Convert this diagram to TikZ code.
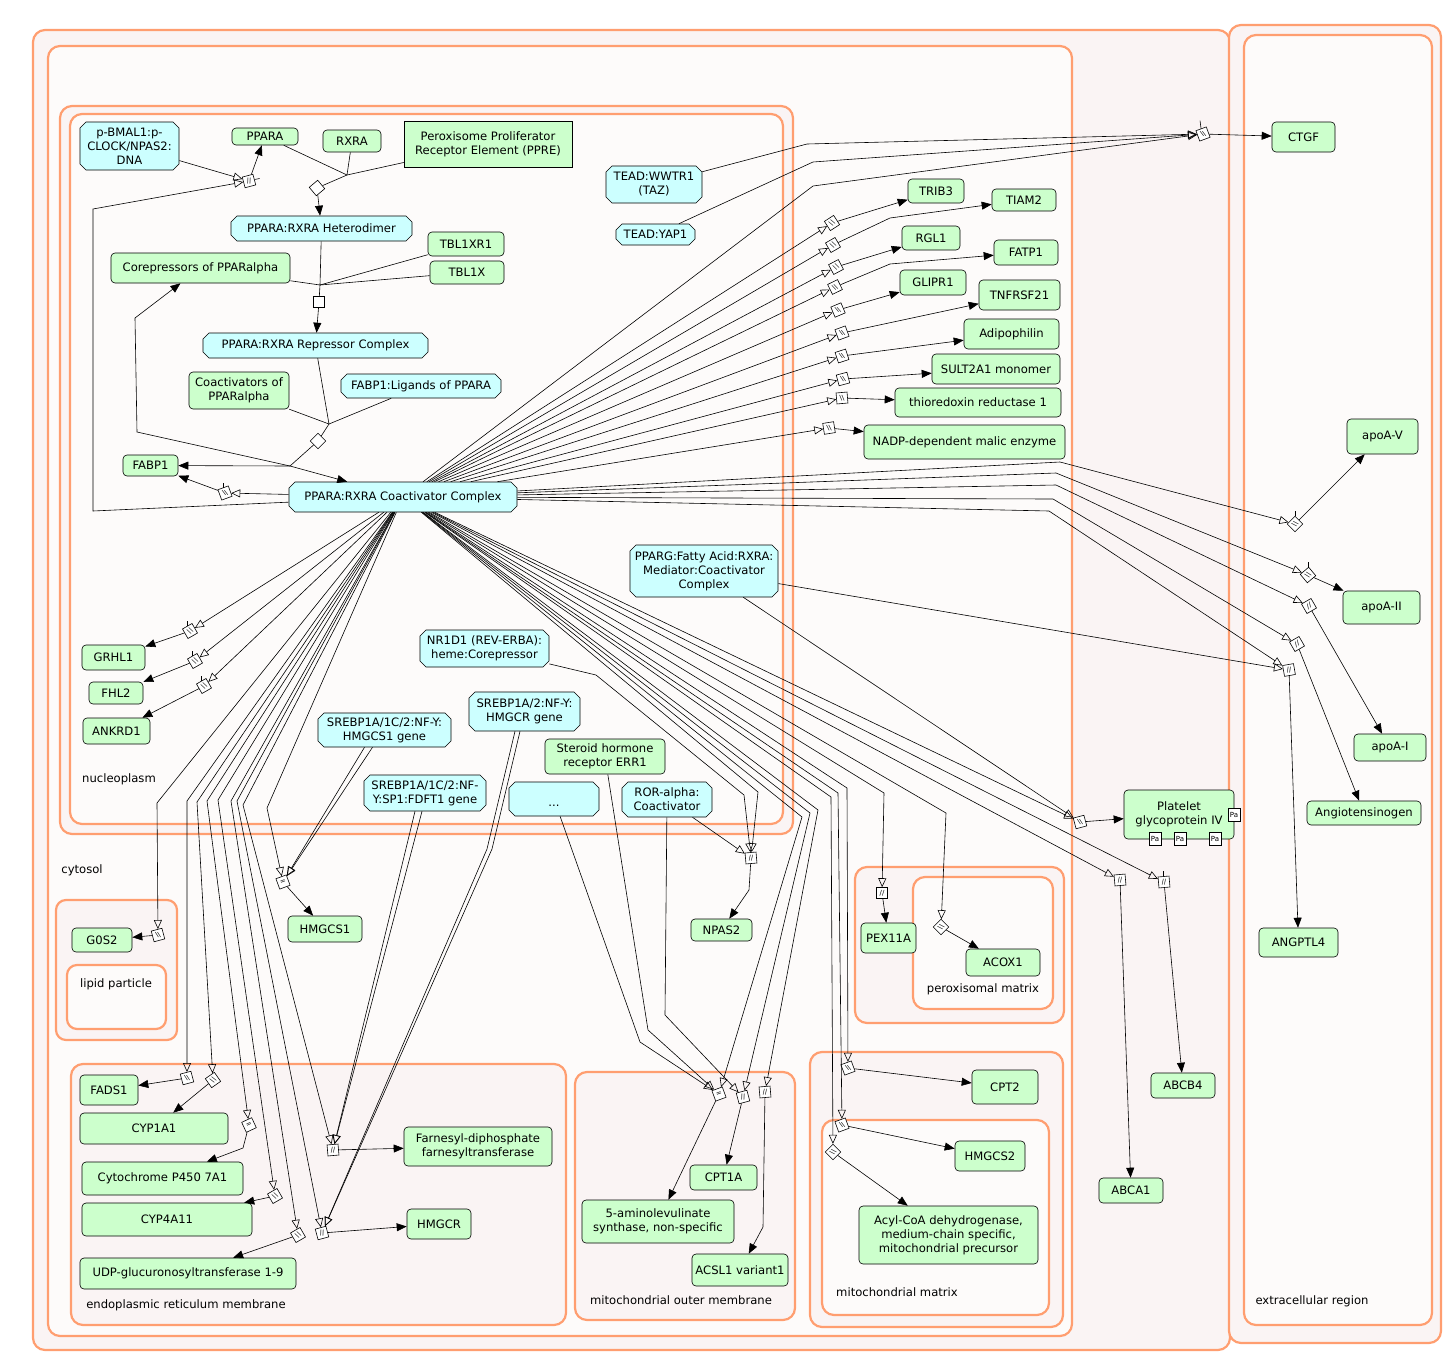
\documentclass[tikz,border=0pt]{standalone}
\usepackage{fontspec}
\setmainfont{DejaVu Sans}
\usetikzlibrary{arrows.meta}
\definecolor{protfill}{HTML}{CCFFCC}
\definecolor{cplxfill}{HTML}{CCFFFF}
\definecolor{compline}{RGB}{255,158,112}
\definecolor{compband}{RGB}{250,244,244}
\definecolor{compin}{RGB}{253,251,250}
\newcommand\nf{\fontsize{11.6}{14}\selectfont}
\newcommand\fw{//}
\newcommand\bw{\textbackslash\textbackslash}
% complex: chamfered outline plus a named node on top
\newcommand\cpx[6]{%
  \draw[fill=cplxfill] ({#2-#4/2+6},{#3-#5/2}) -- ({#2+#4/2-6},{#3-#5/2}) -- ({#2+#4/2},{#3-#5/2+6})
    -- ({#2+#4/2},{#3+#5/2-6}) -- ({#2+#4/2-6},{#3+#5/2}) -- ({#2-#4/2+6},{#3+#5/2})
    -- ({#2-#4/2},{#3+#5/2-6}) -- ({#2-#4/2},{#3-#5/2+6}) -- cycle;
  \node[cplx, minimum width=#4, minimum height=#5] (#1) at (#2,#3) {#6};}
% protein / entity box
\newcommand\prt[6]{\node[prot, minimum width=#4, minimum height=#5] (#1) at (#2,#3) {#6};}
\begin{document}
\begin{tikzpicture}[x=1pt,y=-1pt,line width=0.6pt,
  comp/.style={draw=compline, line width=2.2pt, rounded corners=12pt},
  clabel/.style={font=\nf, inner sep=0pt},
  prot/.style={draw, fill=protfill, rounded corners=4pt, inner sep=1pt, align=center, font=\nf},
  cplx/.style={rectangle, inner sep=1pt, align=center, font=\nf},
  rxn/.style={draw, fill=white, rectangle, minimum size=11, inner sep=0pt, line width=0.6pt, font=\fontsize{7}{7}\selectfont},
  pa/.style={draw, fill=white, minimum width=12, minimum height=13, inner sep=0pt, font=\fontsize{7}{7}\selectfont},
  reg/.style={-{Triangle[open,length=9pt,width=8pt]}},
  prod/.style={-{Triangle[length=10pt,width=8pt]}}]
\path[use as bounding box] (0,0) rectangle (1449,1357);
\fill[white] (0,0) rectangle (1449,1357);

% ---------- compartments ----------
\draw[comp, fill=compband] (33,30) rectangle (1230,1350);
\draw[comp, fill=compin] (48,46) rectangle (1072,1336);
\draw[comp, fill=compband] (1229,25) rectangle (1441,1343);
\draw[comp, fill=compin] (1244,35) rectangle (1432,1325);
\draw[comp, fill=compband] (60,106) rectangle (793,834);
\draw[comp, fill=compin] (70,114) rectangle (783,824);
\draw[comp, fill=compband, rounded corners=10pt] (56,900) rectangle (177,1040);
\draw[comp, fill=compin, rounded corners=10pt] (67,965) rectangle (166,1029);
\draw[comp, fill=compband] (71,1064) rectangle (566,1325);
\draw[comp, fill=compband] (575,1072) rectangle (795,1320);
\draw[comp, fill=compband] (810,1052) rectangle (1063,1327);
\draw[comp, fill=compin] (822,1120) rectangle (1049,1315);
\draw[comp, fill=compband] (855,867) rectangle (1064,1023);
\draw[comp, fill=compin] (913,877) rectangle (1053,1009);

\node[clabel] (lnuc) at (119,779) {nucleoplasm};
\node[clabel] (lcyt) at (82,870) {cytosol};
\node[clabel] (llip) at (116,984) {lipid particle};
\node[clabel] (ler) at (186,1305) {endoplasmic reticulum membrane};
\node[clabel] (lmom) at (681,1300) {mitochondrial outer membrane};
\node[clabel] (lmm) at (897,1292) {mitochondrial matrix};
\node[clabel] (lper) at (983,989) {peroxisomal matrix};
\node[clabel] (lext) at (1312,1301) {extracellular region};

% ---------- nucleoplasm entities ----------
\cpx{bmal}{129.5}{146}{99}{48}{p-BMAL1:p-\\CLOCK/NPAS2:\\DNA}
\prt{ppara}{265}{136.5}{66}{17}{PPARA}
\prt{rxra}{352}{141}{58}{22}{RXRA}
\node[prot, rounded corners=0pt, minimum width=168, minimum height=46] (ppre) at (488,144) {Peroxisome Proliferator\\Receptor Element (PPRE)};
\cpx{het}{321.5}{228.5}{181}{25}{PPARA:RXRA Heterodimer}
\prt{tblxr}{466}{244}{76}{24}{TBL1XR1}
\prt{tblx}{467}{272.5}{74}{23}{TBL1X}
\prt{corep}{200.5}{268}{179}{30}{Corepressors of PPARalpha}
\cpx{rep}{315.5}{345.5}{225}{25}{PPARA:RXRA Repressor Complex}
\prt{coact}{239}{390.5}{100}{37}{Coactivators of\\PPARalpha}
\cpx{fabplig}{421}{386}{160}{24}{FABP1:Ligands of PPARA}
\prt{fabp}{150.5}{465.5}{55}{21}{FABP1}
\cpx{cc}{403}{497}{228}{30}{\raisebox{-3pt}{PPARA:RXRA Coactivator Complex}}
\cpx{teadw}{654}{184.5}{96}{37}{TEAD:WWTR1\\(TAZ)}
\cpx{teady}{655.5}{234.5}{79}{21}{TEAD:YAP1}
\prt{grhl}{113.5}{657.5}{63}{25}{GRHL1}
\prt{fhl}{116}{693}{54}{22}{FHL2}
\prt{ankrd}{116.5}{731}{67}{26}{ANKRD1}
\cpx{nrd}{484.5}{648.5}{129}{37}{NR1D1 (REV-ERBA):\\heme:Corepressor}
\cpx{sreA}{384.5}{730}{133}{34}{SREBP1A/1C/2:NF-Y:\\HMGCS1 gene}
\cpx{sreB}{524.5}{711.5}{111}{39}{SREBP1A/2:NF-Y:\\HMGCR gene}
\cpx{sreC}{425}{793}{122}{36}{SREBP1A/1C/2:NF-\\Y:SP1:FDFT1 gene}
\prt{err}{605}{756.5}{120}{35}{Steroid hormone\\receptor ERR1}
\cpx{dots}{554}{799}{90}{34}{~\\...}
\cpx{ror}{667}{799.5}{90}{35}{ROR-alpha:\\Coactivator}
\cpx{pparg}{704}{571}{148}{52}{PPARG:Fatty Acid:RXRA:\\Mediator:Coactivator\\Complex}

% ---------- cytosol / organelle / extracellular entities ----------
\prt{trib}{936}{191}{56}{24}{TRIB3}
\prt{tiam}{1024}{200}{64}{22}{TIAM2}
\prt{rgl}{931}{238}{58}{24}{RGL1}
\prt{fatp}{1026}{252.5}{64}{25}{FATP1}
\prt{glipr}{933}{282.5}{66}{25}{GLIPR1}
\prt{tnf}{1019.5}{295}{81}{30}{TNFRSF21}
\prt{adipo}{1011.5}{334}{95}{30}{Adipophilin}
\prt{sult}{996}{369}{128}{30}{SULT2A1 monomer}
\prt{thio}{978}{402.5}{166}{29}{thioredoxin reductase 1}
\prt{nadp}{964.5}{442}{201}{34}{NADP-dependent malic enzyme}
\prt{ctgf}{1303.5}{137}{63}{30}{CTGF}
\prt{apov}{1382.5}{436.5}{71}{35}{apoA-V}
\prt{apoii}{1381.5}{607.5}{77}{33}{apoA-II}
\prt{apoi}{1390}{747.5}{72}{27}{apoA-I}
\prt{agt}{1364}{813}{114}{24}{Angiotensinogen}
\prt{angptl}{1298.5}{942.5}{79}{29}{ANGPTL4}
\prt{cd36}{1179}{814.5}{110}{49}{Platelet\\glycoprotein IV}
\node[pa] (paA) at (1234,815) {Pa};
\node[pa] (paB) at (1155,839) {Pa};
\node[pa] (paC) at (1180,839) {Pa};
\node[pa] (paD) at (1215,839) {Pa};
\prt{abcb}{1183}{1085.5}{64}{25}{ABCB4}
\prt{abca}{1131}{1190.5}{64}{25}{ABCA1}
\prt{npas}{721.5}{930}{61}{22}{NPAS2}
\prt{hmgcsA}{325}{929}{74}{26}{HMGCS1}
\prt{gos}{102}{940}{60}{24}{G0S2}
\prt{pex}{888.5}{938}{55}{30}{PEX11A}
\prt{acox}{1003}{962.5}{74}{27}{ACOX1}
\prt{cpttwo}{1005}{1087}{66}{34}{CPT2}
\prt{hmgcsB}{990}{1156}{70}{30}{HMGCS2}
\prt{acad}{948.5}{1235}{179}{58}{Acyl-CoA dehydrogenase,\\medium-chain specific,\\mitochondrial precursor}
\prt{cptone}{723.5}{1177.5}{67}{25}{CPT1A}
\prt{alas}{658}{1221.5}{152}{43}{5-aminolevulinate\\synthase, non-specific}
\prt{acsl}{740}{1270}{96}{32}{ACSL1 variant1}
\prt{fads}{109}{1090}{58}{30}{FADS1}
\prt{cypa}{154}{1128.5}{148}{31}{CYP1A1}
\prt{cypb}{162.5}{1178.5}{161}{33}{Cytochrome P450 7A1}
\prt{cypc}{167}{1219.5}{170}{33}{CYP4A11}
\prt{ugt}{188}{1273.5}{216}{31}{UDP-glucuronosyltransferase 1-9}
\prt{fdft}{478}{1146.5}{148}{39}{Farnesyl-diphosphate\\farnesyltransferase}
\prt{hmgcr}{439}{1224}{64}{30}{HMGCR}

% ---------- reaction glyphs ----------
\node[rxn, rotate=15] (xA) at (249,181) {\fw};
\node[rxn, rotate=40] (xB) at (317,188) {};
\node[rxn] (xC) at (319,302) {};
\node[rxn, rotate=45] (xD) at (318,441) {};
\node[rxn, rotate=20] (xE) at (225,493) {\bw};
\node[rxn, rotate=20] (xCtgf) at (1203,134) {\bw};
\node[rxn, rotate=33] (xTrib) at (832,223) {\bw};
\node[rxn, rotate=30] (xTiam) at (833,245) {\bw};
\node[rxn, rotate=28] (xRgl) at (836,267) {\bw};
\node[rxn, rotate=26] (xFatp) at (835,287) {\bw};
\node[rxn, rotate=23] (xGlipr) at (838,310) {\bw};
\node[rxn, rotate=20] (xTnf) at (842,333) {\bw};
\node[rxn, rotate=18] (xAdipo) at (842,356) {\bw};
\node[rxn, rotate=15] (xSult) at (843,379) {\bw};
\node[rxn, rotate=5] (xThio) at (842,398) {\bw};
\node[rxn, rotate=9] (xNadp) at (829,428) {\bw};
\node[rxn, rotate=45] (xApoV) at (1295,524) {\bw};
\node[rxn, rotate=40] (xApoII) at (1308,575) {\bw};
\node[rxn, rotate=30] (xApoI) at (1309,606) {\fw};
\node[rxn, rotate=30] (xAgt) at (1297,644) {\fw};
\node[rxn, rotate=10] (xAngptl) at (1289,670) {\fw};
\node[rxn, rotate=15] (xCd) at (1080,822) {\bw};
\node[rxn, rotate=5] (xAbca) at (1120,880) {\fw};
\node[rxn, rotate=5] (xAbcb) at (1164,882) {\fw};
\node[rxn] (xPex) at (882,893) {\fw};
\node[rxn, rotate=45] (xAcox) at (941,927) {\bw};
\node[rxn, rotate=20] (xCpt2) at (848,1068) {\bw};
\node[rxn, rotate=20] (xHmgcs2) at (842,1125) {\bw};
\node[rxn, rotate=45] (xAcad) at (833,1152) {\bw};
\node[rxn, rotate=20] (xMa) at (719,1094) {=};
\node[rxn, rotate=15] (xMb) at (743,1097) {\fw};
\node[rxn, rotate=5] (xMc) at (765,1092) {\fw};
\node[rxn, rotate=5] (xNpas) at (751,858) {\fw};
\node[rxn, rotate=30] (xGrhl) at (190,631) {\bw};
\node[rxn, rotate=30] (xFhl) at (195,661) {\bw};
\node[rxn, rotate=30] (xAnk) at (204,686) {\bw};
\node[rxn, rotate=15] (xGos) at (158,935) {\bw};
\node[rxn, rotate=15] (xFads) at (187,1078) {\bw};
\node[rxn, rotate=35] (xCypa) at (213,1080) {\bw};
\node[rxn, rotate=25] (xCypb) at (249,1125) {=};
\node[rxn, rotate=30] (xCypc) at (275,1196) {\bw};
\node[rxn, rotate=30] (xUgt) at (298,1235) {\bw};
\node[rxn, rotate=5] (xFdft) at (333,1150) {\fw};
\node[rxn, rotate=15] (xHmgcr) at (322,1233) {\fw};
\node[rxn, rotate=20] (xHmgcs) at (283,882) {=};

% stubs on reaction glyphs
\draw (xA.east) -- ++(5pt,1pt);
\draw (xE.north) -- ++(0pt,5pt);
\draw (xCtgf.north) -- ++(-1pt,8pt);
\draw (xGrhl.north) -- ++(0pt,5pt);
\draw (xFhl.north) -- ++(0pt,5pt);
\draw (xAnk.north) -- ++(0pt,5pt);
\draw (xApoV.north east) -- ++(0pt,5pt);
\draw (xApoII.north east) -- ++(0pt,5pt);
\draw (xAbcb.north) -- ++(0pt,5pt);

% ---------- PPARA / RXRA assembly ----------
\draw (ppara) -- (347,175);
\draw (rxra) -- (347,175);
\draw (ppre) -- (347,175) -- (xB);
\draw[prod] (xB) -- (het);
\draw[reg] (bmal) -- (xA);
\draw[reg] (cc) -- (93,511) -- (93,209) -- (xA);
\draw[prod] (xA) -- (ppara);
\draw (tblxr) -- (320,285);
\draw (tblx) -- (320,285);
\draw (corep) -- (320,285);
\draw (het) -- (320,285) -- (xC);
\draw[prod] (xC) -- (rep);
\draw (fabplig) -- (329,424);
\draw (coact) -- (329,424);
\draw (rep) -- (329,424) -- (xD);
\draw (xD) -- (290,466);
\draw[prod] (290,466) -- (fabp);
\draw[prod] (290,466) -- (cc);
\draw[prod] (290,466) -- (137,432) -- (135,318) -- (corep);
\draw[reg] (cc) -- (xE);
\draw[prod] (xE) -- (fabp);

% ---------- targets to the upper right ----------
\draw[reg] (cc) -- (813,186) -- (xCtgf);
\draw[reg] (teadw) -- (807,144) -- (xCtgf);
\draw[reg] (teady) -- (813,162) -- (xCtgf);
\draw[prod] (xCtgf) -- (ctgf);
\draw[reg] (cc) -- (xTrib);   \draw[prod] (xTrib) -- (trib);
\draw[reg] (cc) -- (xTiam);   \draw[prod] (xTiam) -- (890,218) -- (tiam);
\draw[reg] (cc) -- (xRgl);    \draw[prod] (xRgl) -- (rgl);
\draw[reg] (cc) -- (xFatp);   \draw[prod] (xFatp) -- (890,264) -- (fatp);
\draw[reg] (cc) -- (xGlipr);  \draw[prod] (xGlipr) -- (glipr);
\draw[reg] (cc) -- (xTnf);    \draw[prod] (xTnf) -- (tnf);
\draw[reg] (cc) -- (xAdipo);  \draw[prod] (xAdipo) -- (adipo);
\draw[reg] (cc) -- (xSult);   \draw[prod] (xSult) -- (sult);
\draw[reg] (cc) -- (xThio);   \draw[prod] (xThio) -- (thio);
\draw[reg] (cc) -- (xNadp);   \draw[prod] (xNadp) -- (nadp);

% ---------- extracellular targets ----------
\draw[reg] (cc) -- (1060,462) -- (xApoV);   \draw[prod] (xApoV) -- (apov);
\draw[reg] (cc) -- (1056,473) -- (xApoII);  \draw[prod] (xApoII) -- (apoii);
\draw[reg] (cc) -- (1056,485) -- (xApoI);   \draw[prod] (xApoI) -- (apoi);
\draw[reg] (cc) -- (1053,499) -- (xAgt);    \draw[prod] (xAgt) -- (agt);
\draw[reg] (cc) -- (1049,511) -- (xAngptl); \draw[prod] (xAngptl) -- (angptl);
\draw[reg] (pparg) -- (xAngptl);
\draw[reg] (pparg) -- (xCd);
\draw[reg] (cc) -- (xCd);     \draw[prod] (xCd) -- (cd36);
\draw[reg] (cc) -- (xAbca);   \draw[prod] (xAbca) -- (abca);
\draw[reg] (cc) -- (xAbcb);   \draw[prod] (xAbcb) -- (abcb);

% ---------- peroxisome and mitochondrion ----------
\draw[reg] (cc) -- (884,793) -- (xPex);   \draw[prod] (xPex) -- (pex);
\draw[reg] (cc) -- (946,813) -- (xAcox);  \draw[prod] (xAcox) -- (acox);
\draw[reg] (cc) -- (847,788) -- (xCpt2);  \draw[prod] (xCpt2) -- (cpttwo);
\draw[reg] (cc) -- (838,793) -- (xHmgcs2);\draw[prod] (xHmgcs2) -- (hmgcsB);
\draw[reg] (cc) -- (831,797) -- (xAcad);  \draw[prod] (xAcad) -- (acad);
\draw[reg] (cc) -- (802,817) -- (xMa);
\draw[reg] (cc) -- (810,813) -- (xMb);
\draw[reg] (cc) -- (818,810) -- (xMc);
\draw[reg] (dots) -- (640,1042) -- (xMa);
\draw[reg] (err) -- (648,1030) -- (xMa);
\draw[reg] (ror) -- (665,1015) -- (xMb);
\draw[prod] (xMa) -- (alas);
\draw[prod] (xMb) -- (cptone);
\draw[prod] (xMc) -- (763,1227) -- (acsl);

% ---------- NPAS2 ----------
\draw[reg] (nrd) -- (596,675) -- (744,795) -- (xNpas);
\draw[reg] (cc) -- (758,792) -- (xNpas);
\draw[reg] (ror) -- (xNpas);
\draw[prod] (xNpas) -- (749,890) -- (npas);

% ---------- targets to the lower left ----------
\draw[reg] (cc) -- (xGrhl);  \draw[prod] (xGrhl) -- (grhl);
\draw[reg] (cc) -- (xFhl);   \draw[prod] (xFhl) -- (fhl);
\draw[reg] (cc) -- (xAnk);   \draw[prod] (xAnk) -- (ankrd);
\draw[reg] (cc) -- (157,803) -- (xGos);   \draw[prod] (xGos) -- (gos);
\draw[reg] (cc) -- (187,801) -- (xFads);  \draw[prod] (xFads) -- (fads);
\draw[reg] (cc) -- (197,802) -- (xCypa);  \draw[prod] (xCypa) -- (cypa);
\draw[reg] (cc) -- (207,801) -- (xCypb);  \draw[prod] (xCypb) -- (243,1148) -- (cypb);
\draw[reg] (cc) -- (218,800) -- (xCypc);  \draw[prod] (xCypc) -- (cypc);
\draw[reg] (cc) -- (231,801) -- (xUgt);   \draw[prod] (xUgt) -- (ugt);
\draw[reg] (cc) -- (237,801) -- (xHmgcr); \draw[prod] (xHmgcr) -- (hmgcr);
\draw[reg] (cc) -- (243,805) -- (xFdft);  \draw[prod] (xFdft) -- (fdft);
\draw[reg] (cc) -- (267,808) -- (xHmgcs); \draw[prod] (xHmgcs) -- (hmgcsA);
\draw[reg] ([xshift=-20pt]sreA.south) -- (xHmgcs);
\draw[reg] ([xshift=-12pt]sreA.south) -- (xHmgcs);
\draw[reg] ([xshift=-10pt]sreC.south) -- (xFdft);
\draw[reg] ([xshift=-3pt]sreC.south) -- (xFdft);
\draw[reg] ([xshift=-9.5pt]sreB.south) -- (487,849) -- (xHmgcr);
\draw[reg] ([xshift=-4.5pt]sreB.south) -- (492,849) -- (xHmgcr);
\end{tikzpicture}
\end{document}
